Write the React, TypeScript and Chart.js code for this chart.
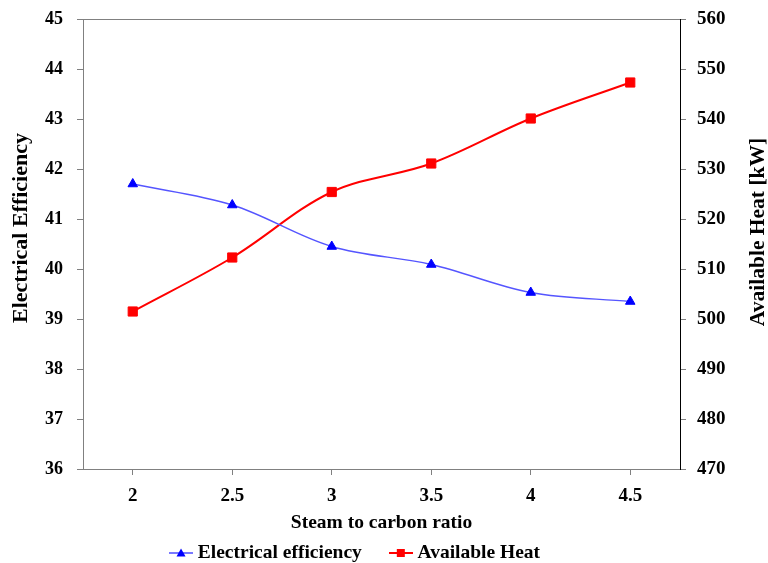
import React, { useEffect, useRef } from 'react';
import { Chart, registerables } from 'chart.js';

Chart.register(...registerables);

const categories = ['2', '2.5', '3', '3.5', '4', '4.5'];
const electricalEfficiency = [41.7, 41.28, 40.45, 40.09, 39.53, 39.35];
const availableHeat = [501.5, 512.3, 525.4, 531.1, 540.1, 547.3];
const seriesNames = ['Electrical efficiency', 'Available Heat'];
const leftTitle = 'Electrical Efficiency';
const rightTitle = 'Available Heat [kW]';
const xTitle = 'Steam to carbon ratio';

const FONT = '"Liberation Serif", "Times New Roman", serif';
const GREY = '#808080';

function makeIcon(color: string, shape: 'triangle' | 'rect', lw: number): HTMLCanvasElement {
  const c = document.createElement('canvas');
  c.width = 24;
  c.height = 14;
  const ctx = c.getContext('2d')!;
  ctx.strokeStyle = color;
  ctx.lineWidth = lw;
  ctx.beginPath();
  ctx.moveTo(0, 7);
  ctx.lineTo(24, 7);
  ctx.stroke();
  ctx.fillStyle = shape === 'triangle' ? '#0000ff' : color;
  if (shape === 'triangle') {
    ctx.beginPath();
    ctx.moveTo(12, 2.5);
    ctx.lineTo(16.5, 10.5);
    ctx.lineTo(7.5, 10.5);
    ctx.closePath();
    ctx.fill();
  } else {
    ctx.fillRect(8, 3, 8, 8);
  }
  return c;
}

const legendPlacer = {
  id: 'legendPlacer',
  afterLayout(chart: any) {
    const lg = chart.legend;
    if (!lg) return;
    const pad = lg.options.labels.padding;
    const fs = 19.5;
    lg.left = 174 - pad;
    lg.right = 768;
    lg.top = 553 - pad - fs / 2;
    lg.bottom = 563;
  },
};

const yTitles = {
  id: 'yTitles',
  afterDraw(chart: any) {
    const ctx = chart.ctx;
    ctx.save();
    ctx.fillStyle = '#000';
    ctx.textAlign = 'center';
    ctx.textBaseline = 'middle';
    ctx.font = `bold 22px ${FONT}`;
    ctx.save();
    ctx.translate(21, 228);
    ctx.rotate(-Math.PI / 2);
    ctx.fillText(leftTitle, 0, 0);
    ctx.restore();
    ctx.font = `bold 21.5px ${FONT}`;
    ctx.save();
    ctx.translate(758, 232);
    ctx.rotate(-Math.PI / 2);
    ctx.fillText(rightTitle, 0, 0);
    ctx.restore();
    ctx.restore();
  },
};

export default function App() {
  const ref = useRef<HTMLCanvasElement | null>(null);

  useEffect(() => {
    if (!ref.current) return;
    const icons = [makeIcon('#4d4dff', 'triangle', 1.5), makeIcon('#ff0000', 'rect', 2)];
    const chart = new Chart(ref.current, {
      type: 'line',
      data: {
        labels: categories,
        datasets: [
          {
            label: seriesNames[0],
            data: electricalEfficiency,
            yAxisID: 'y',
            borderColor: '#5555ff',
            borderWidth: 1.4,
            pointStyle: 'triangle',
            pointRadius: 5.5,
            pointBackgroundColor: '#0000ff',
            pointBorderColor: '#0000ff',
            pointBorderWidth: 1,
            tension: 0.35,
            fill: false,
          },
          {
            label: seriesNames[1],
            data: availableHeat,
            yAxisID: 'y1',
            borderColor: '#ff0000',
            borderWidth: 2,
            pointStyle: 'rect',
            pointRadius: 6.5,
            pointBackgroundColor: '#ff0000',
            pointBorderColor: '#ff0000',
            pointBorderWidth: 1,
            tension: 0.35,
            fill: false,
          },
        ],
      },
      options: {
        responsive: false,
        animation: false,
        events: [],
        layout: { padding: { top: 19, left: 0, right: 0, bottom: 0 } },
        scales: {
          x: {
            type: 'category',
            position: 'bottom',
            offset: true,
            grid: { offset: false, drawOnChartArea: false, tickLength: 6, color: GREY },
            border: { color: GREY },
            ticks: {
              padding: 10,
              color: '#000',
              maxRotation: 0,
              autoSkip: false,
              font: { family: FONT, size: 19, weight: 'bold' },
            },
            title: {
              display: true,
              text: xTitle,
              color: '#000',
              font: { family: FONT, size: 19.5, weight: 'bold' },
              padding: { top: 0, bottom: 27 },
            },
            afterFit(s: any) {
              s.height = 93;
            },
          },
          xTop: {
            type: 'category',
            position: 'top',
            offset: true,
            grid: { display: false, drawTicks: false },
            ticks: { display: false },
            border: { color: GREY },
            afterFit(s: any) {
              s.height = 0;
              s.paddingLeft = 0;
              s.paddingRight = 0;
            },
          },
          y: {
            type: 'linear',
            position: 'left',
            min: 36,
            max: 45,
            ticks: {
              stepSize: 1,
              padding: 14,
              color: '#000',
              font: { family: FONT, size: 18, weight: 'bold' },
            },
            grid: { drawOnChartArea: false, tickLength: 6, color: GREY },
            border: { color: GREY },
            afterFit(s: any) {
              s.width = 83;
              s.paddingTop = 5;
              s.paddingBottom = 5;
            },
          },
          y1: {
            type: 'linear',
            position: 'right',
            min: 470,
            max: 560,
            ticks: {
              stepSize: 10,
              padding: 11,
              color: '#000',
              font: { family: FONT, size: 19, weight: 'bold' },
            },
            grid: { drawOnChartArea: false, tickLength: 6, color: GREY },
            border: { color: '#000' },
            afterFit(s: any) {
              s.width = 88;
              s.paddingTop = 5;
              s.paddingBottom = 5;
            },
          },
        },
        plugins: {
          tooltip: { enabled: false },
          legend: {
            position: 'bottom',
            align: 'start',
            maxHeight: 1,
            labels: {
              usePointStyle: true,
              pointStyleWidth: 14,
              padding: 32,
              color: '#000',
              font: { family: FONT, size: 19.5, weight: 'bold' },
              generateLabels(ch: any) {
                const items = (Chart.defaults.plugins.legend.labels as any).generateLabels(ch);
                items.forEach((it: any, i: number) => {
                  it.pointStyle = icons[i];
                });
                return items;
              },
            },
          },
        },
      } as any,
      plugins: [legendPlacer, yTitles],
    });
    return () => chart.destroy();
  }, []);

  return (
    <canvas
      ref={ref}
      width={768}
      height={563}
      style={{ position: 'absolute', left: 0, top: 0, display: 'block', background: '#fff' }}
    />
  );
}
